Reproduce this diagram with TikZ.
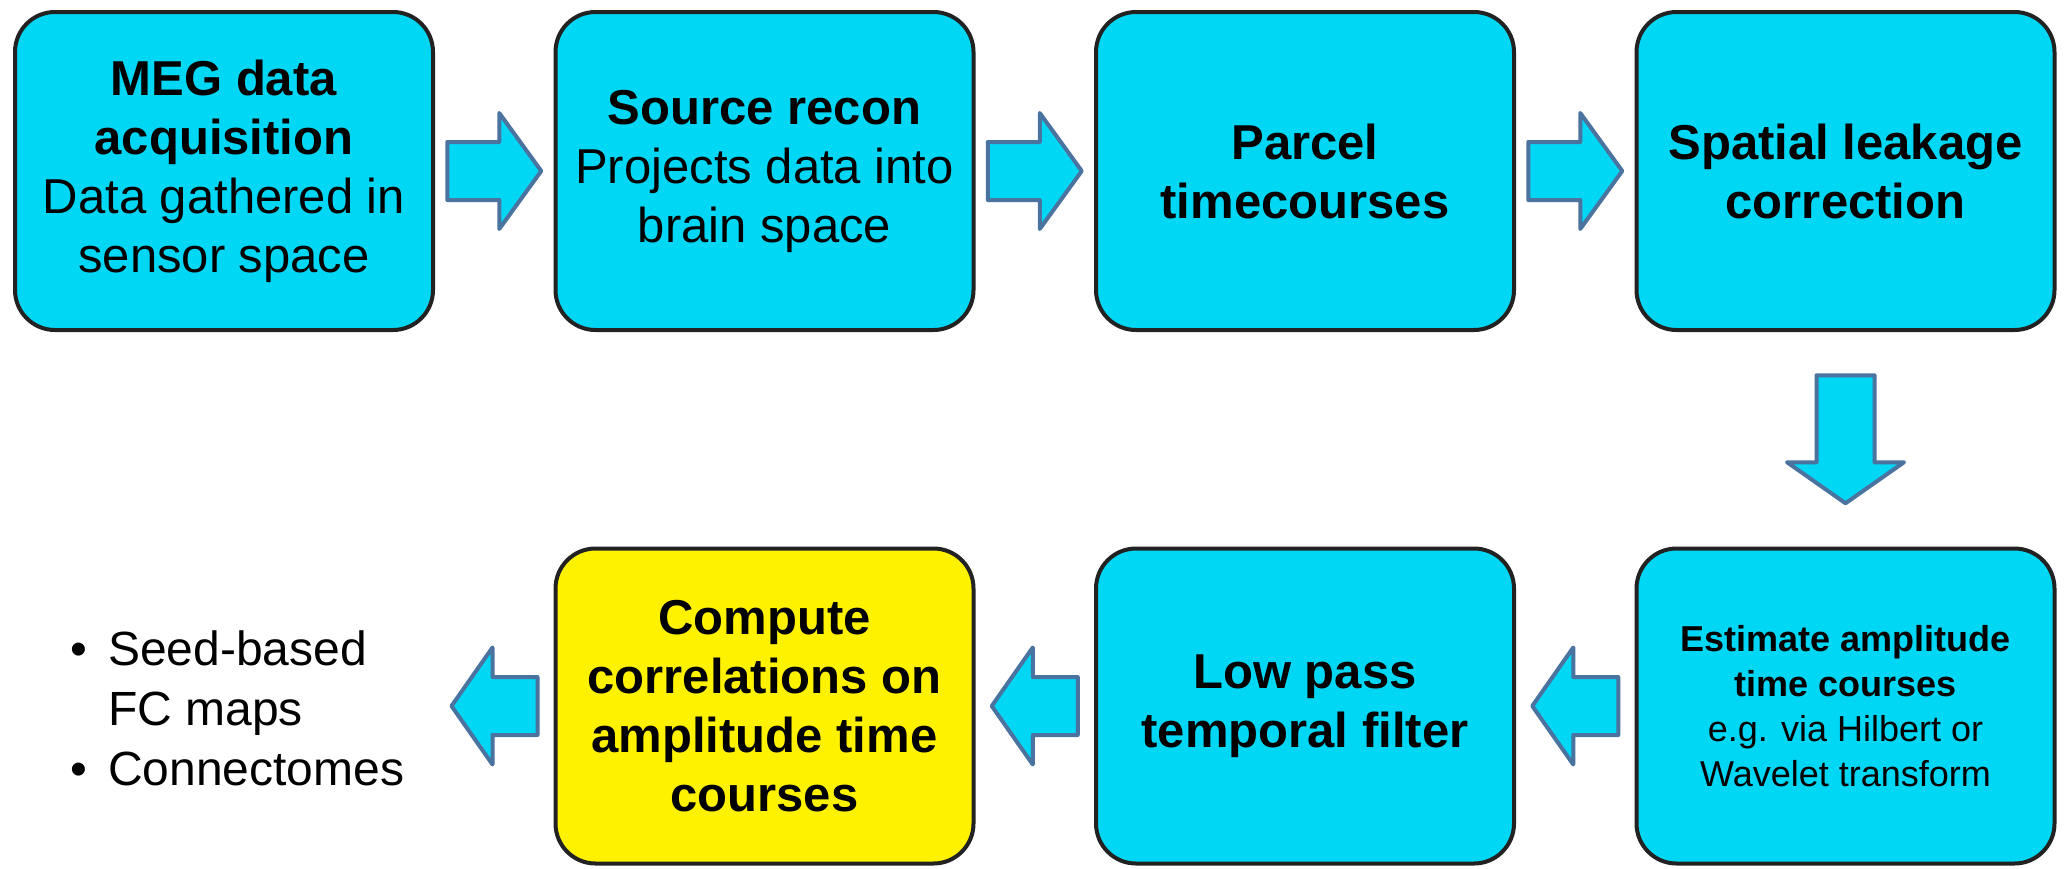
\documentclass[tikz,border=0pt]{standalone}
\usepackage{fontspec}
\setmainfont{Liberation Sans}
\usetikzlibrary{calc}
\definecolor{boxcyan}{RGB}{0,215,245}
\definecolor{boxyellow}{RGB}{255,242,0}
\definecolor{arrowedge}{RGB}{74,115,160}
\definecolor{boxedge}{RGB}{34,34,34}
\begin{document}
\begin{tikzpicture}[x=1pt,y=-1pt,
  stepbox/.style={draw=boxedge, line width=4pt, rounded corners=40pt, fill=boxcyan,
    minimum width=418pt, minimum height=318pt, inner sep=0pt, align=center,
    font=\fontsize{49}{59}\selectfont},
  smalltext/.style={font=\fontsize{36}{45}\selectfont},
  barrow/.style={draw=arrowedge, fill=boxcyan, line width=4pt, line join=round},
  rarrow/.pic={\draw[barrow] (-47,-29) -- (5,-29) -- (5,-58) -- (47,0) -- (5,58) -- (5,29) -- (-47,29) -- cycle;},
  larrow/.pic={\draw[barrow] (43,-29) -- (-2,-29) -- (-2,-58.5) -- (-43,0) -- (-2,58.5) -- (-2,29) -- (43,29) -- cycle;},
  darrow/.pic={\draw[barrow] (-29,-64) -- (-29,23) -- (-58.5,23) -- (0,64) -- (58.5,23) -- (29,23) -- (29,-64) -- cycle;}
]
\useasboundingbox (0,0) rectangle (2065,868);

% top row
\node[stepbox] (b1) at (224,171) {\textbf{MEG data}\\\textbf{acquisition}\\Data gathered in\\sensor space};
\node[stepbox] (b2) at (764.5,171) {\textbf{Source recon}\\Projects data into\\brain space};
\node[stepbox] (b3) at (1305,171) {\textbf{Parcel}\\\textbf{timecourses}};
\node[stepbox] (b4) at (1845.5,171) {\textbf{Spatial leakage}\\\textbf{correction}};

% bottom row
\node[stepbox, minimum height=315pt, smalltext] (b5) at (1845.5,706) {\textbf{Estimate amplitude}\\\textbf{time courses}\\e.g. via Hilbert or\\Wavelet transform};
\node[stepbox, minimum height=315pt] (b6) at (1305,706) {\textbf{Low pass}\\\textbf{temporal filter}};
\node[stepbox, minimum height=315pt, fill=boxyellow] (b7) at (764.5,706) {\textbf{Compute}\\\textbf{correlations on}\\\textbf{amplitude time}\\\textbf{courses}};

% outputs
\node[anchor=west, align=left, inner sep=0pt, font=\fontsize{48}{60}\selectfont] (out) at (70,708)
  {\makebox[38pt][l]{\makebox[17pt]{•}}Seed-based\\\hspace*{38pt}FC maps\\\makebox[38pt][l]{\makebox[17pt]{•}}Connectomes};

% block arrows
\coordinate (a12) at ($(b1.east)!0.5!(b2.west)$);
\coordinate (a23) at ($(b2.east)!0.5!(b3.west)$);
\coordinate (a34) at ($(b3.east)!0.5!(b4.west)$);
\coordinate (a45) at ($(b4.south)!0.5!(b5.north)$);
\coordinate (a56) at ($(b5.west)!0.5!(b6.east)$);
\coordinate (a67) at ($(b6.west)!0.5!(b7.east)$);
\coordinate (a7o) at ($(b7.west)+(-59,0)$);
\pic at (a12) {rarrow};
\pic at (a23) {rarrow};
\pic at (a34) {rarrow};
\pic at (a45) {darrow};
\pic at (a56) {larrow};
\pic at (a67) {larrow};
\pic at (a7o) {larrow};
\end{tikzpicture}
\end{document}
